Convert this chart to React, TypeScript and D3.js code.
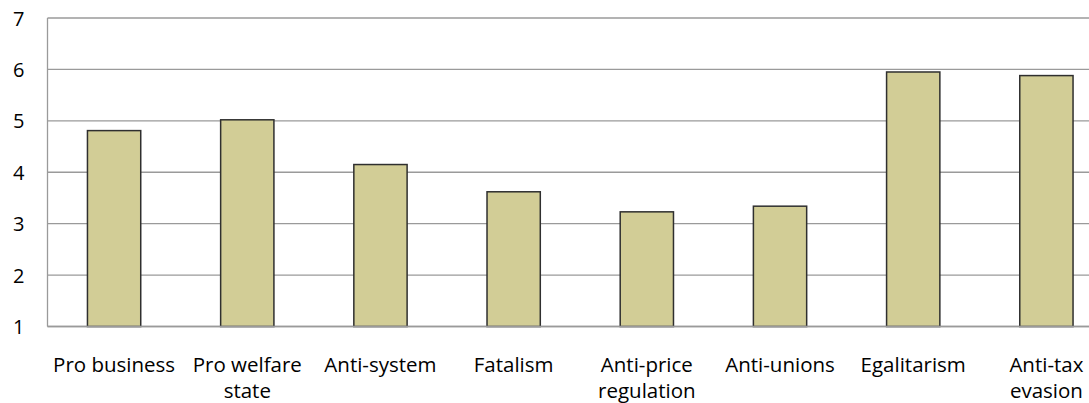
import React from "react";
import * as d3 from "d3";

const categories: string[][] = [
  ["Pro business"],
  ["Pro welfare", "state"],
  ["Anti-system"],
  ["Fatalism"],
  ["Anti-price", "regulation"],
  ["Anti-unions"],
  ["Egalitarism"],
  ["Anti-tax", "evasion"],
];
const values: number[] = [4.81, 5.02, 4.15, 3.62, 3.23, 3.34, 5.95, 5.88];
const yTicks: number[] = [1, 2, 3, 4, 5, 6, 7];

const W = 1089;
const H = 403;
const plotLeft = 47.5;
const plotRight = 1113;
const plotTop = 18;
const plotBottom = 326.5;
const font = "'Open Sans', Lato, sans-serif";

export default function App() {
  const keys = categories.map((c) => c.join(" "));
  const x = d3
    .scaleBand<string>()
    .domain(keys)
    .range([plotLeft, plotRight])
    .paddingInner(0.6)
    .paddingOuter(0.3);
  const y = d3.scaleLinear().domain([1, 7]).range([plotBottom, plotTop]);

  return (
    <svg
      width={W}
      height={H}
      style={{ position: "absolute", left: 0, top: 0, background: "#fff" }}
    >
      <rect x={0} y={0} width={W} height={H} fill="#fff" />
      {yTicks.map((t) => (
        <line
          key={"g" + t}
          x1={plotLeft}
          x2={plotRight}
          y1={y(t)}
          y2={y(t)}
          stroke="#9a9a9a"
          strokeWidth={1.3}
        />
      ))}
      <line
        x1={plotLeft}
        x2={plotLeft}
        y1={plotTop}
        y2={plotBottom}
        stroke="#9a9a9a"
        strokeWidth={1.3}
      />
      {yTicks.map((t) => (
        <text
          key={"t" + t}
          x={24.5}
          y={y(t)}
          textAnchor="end"
          dominantBaseline="central"
          fontFamily={font}
          fontSize={20}
          fill="#000"
        >
          {t}
        </text>
      ))}
      {values.map((v, i) => (
        <rect
          key={"b" + i}
          x={x(keys[i])}
          y={y(v)}
          width={x.bandwidth()}
          height={y(1) - y(v)}
          fill="#D2CD96"
          stroke="#2f2f2f"
          strokeWidth={1.5}
        />
      ))}
      <line
        x1={plotLeft}
        x2={plotRight}
        y1={plotBottom}
        y2={plotBottom}
        stroke="#9a9a9a"
        strokeWidth={1.3}
      />
      {categories.map((lines, i) => (
        <text
          key={"c" + i}
          x={(x(keys[i]) as number) + x.bandwidth() / 2}
          y={372}
          textAnchor="middle"
          fontFamily={font}
          fontSize={20.5}
          fill="#000"
        >
          {lines.map((l, j) => (
            <tspan key={j} x={(x(keys[i]) as number) + x.bandwidth() / 2} dy={j === 0 ? 0 : 26}>
              {l}
            </tspan>
          ))}
        </text>
      ))}
    </svg>
  );
}
